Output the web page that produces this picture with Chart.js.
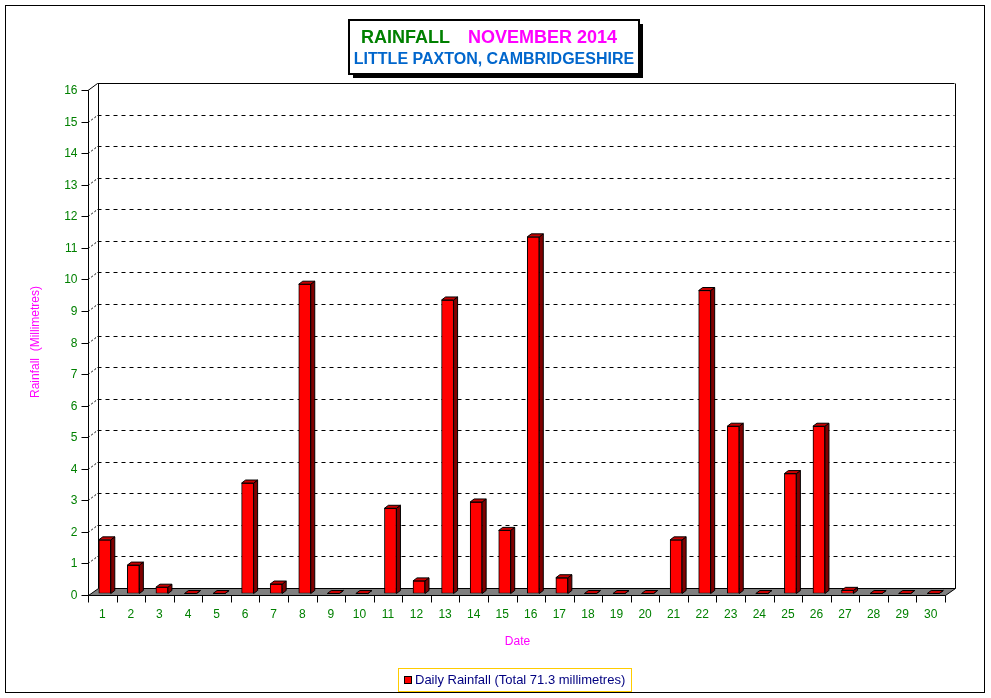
<!DOCTYPE html>
<html>
<head>
<meta charset="utf-8">
<script src="https://cdn.jsdelivr.net/npm/chart.js@4/dist/chart.umd.min.js"></script>
<style>
  html, body { margin: 0; padding: 0; background: #fff; }
  canvas { display: block; }
</style>
</head>
<body>
<canvas id="chartCanvas" width="991" height="698"></canvas>
<script>
// ===============================
// DATA
// ===============================
const days = ["1","2","3","4","5","6","7","8","9","10","11","12","13","14","15",
              "16","17","18","19","20","21","22","23","24","25","26","27","28","29","30"];
const rainfall = [1.7, 0.9, 0.2, 0, 0, 3.5, 0.3, 9.8, 0, 0, 2.7, 0.4, 9.3, 2.9, 2.0,
                  11.3, 0.5, 0, 0, 0, 1.7, 9.6, 5.3, 0, 3.8, 5.3, 0.1, 0, 0, 0];
const yMin = 0, yMax = 16, yStep = 1;
const seriesLabel = "Daily Rainfall (Total 71.3 millimetres)";
const titleLeft = "RAINFALL";
const titleRight = "NOVEMBER 2014";
const subTitle = "LITTLE PAXTON, CAMBRIDGESHIRE";
const xTitle = "Date";
const yTitle = "Rainfall  (Millimetres)";

const FONT = "Arial, 'Liberation Sans', sans-serif";
const DX = 9.5, DY = 7;        // depth of back wall
const BDX = 4, BDY = 3;        // depth of each bar
const BAR_SHIFT_X = 2.5, BAR_SHIFT_Y = -1.5;

// ===============================
// 3D BACKGROUND + DECORATIONS
// ===============================
const chartDecor = {
  id: "chartDecor",

  beforeDatasetsDraw(chart) {
    const { ctx, chartArea: a, scales: { y } } = chart;
    ctx.save();
    ctx.lineWidth = 1;
    ctx.strokeStyle = "#000";

    // back wall gridlines
    y.ticks.forEach(t => {
      const py = Math.round(y.getPixelForValue(t.value) - DY) + 0.5;
      if (t.value === yMin) return;
      ctx.setLineDash(t.value === yMax ? [] : [4, 4]);
      ctx.beginPath();
      ctx.moveTo(a.left + DX, py);
      ctx.lineTo(a.right + DX, py);
      ctx.stroke();
      // little diagonal from front axis to back wall
      ctx.setLineDash(t.value === yMax ? [] : [2, 2]);
      ctx.beginPath();
      ctx.moveTo(a.left, py + DY);
      ctx.lineTo(a.left + DX, py);
      ctx.stroke();
    });
    ctx.setLineDash([]);

    const top = Math.round(y.getPixelForValue(yMax) - DY) + 0.5;
    const bot = Math.round(y.getPixelForValue(yMin)) + 0.5;
    const bl = Math.round(a.left + DX) + 0.5;
    const br = Math.round(a.right + DX) + 0.5;
    const fl = Math.round(a.left) + 0.5;
    const fr = Math.round(a.right) + 0.5;

    // back wall verticals
    ctx.beginPath();
    ctx.moveTo(bl, top); ctx.lineTo(bl, bot - DY);
    ctx.moveTo(br, top); ctx.lineTo(br, bot - DY);
    ctx.stroke();

    // floor
    ctx.fillStyle = "#808080";
    ctx.beginPath();
    ctx.moveTo(fl, bot);
    ctx.lineTo(bl, bot - DY);
    ctx.lineTo(br, bot - DY);
    ctx.lineTo(fr, bot);
    ctx.closePath();
    ctx.fill();
    ctx.stroke();

    // front axis line
    ctx.beginPath();
    ctx.moveTo(fl, Math.round(y.getPixelForValue(yMax)) + 0.5);
    ctx.lineTo(fl, bot);
    ctx.stroke();
    ctx.restore();

    // shift bars onto the floor
    ctx.save();
    ctx.translate(BAR_SHIFT_X, BAR_SHIFT_Y);
  },

  afterDatasetsDraw(chart) {
    const { ctx } = chart;
    const meta = chart.getDatasetMeta(0);
    ctx.lineWidth = 1;
    ctx.strokeStyle = "#000";
    meta.data.forEach(bar => {
      const { x, y, base, width } = bar.getProps(["x", "y", "base", "width"], true);
      const x0 = x - width / 2, x1 = x + width / 2;
      // side face
      ctx.fillStyle = "#800000";
      ctx.beginPath();
      ctx.moveTo(x1, y);
      ctx.lineTo(x1 + BDX, y - BDY);
      ctx.lineTo(x1 + BDX, base - BDY);
      ctx.lineTo(x1, base);
      ctx.closePath();
      ctx.fill();
      ctx.stroke();
      // top face
      ctx.fillStyle = "#C80000";
      ctx.beginPath();
      ctx.moveTo(x0, y);
      ctx.lineTo(x0 + BDX, y - BDY);
      ctx.lineTo(x1 + BDX, y - BDY);
      ctx.lineTo(x1, y);
      ctx.closePath();
      ctx.fill();
      ctx.stroke();
    });
    ctx.restore();
  },

  afterDraw(chart) {
    const { ctx, chartArea: a, scales: { x, y } } = chart;
    ctx.save();
    ctx.lineWidth = 1;
    ctx.strokeStyle = "#000";
    const fl = Math.round(a.left) + 0.5;
    const bot = Math.round(y.getPixelForValue(yMin)) + 0.5;

    // y ticks + labels
    ctx.font = "12px " + FONT;
    ctx.fillStyle = "#008000";
    ctx.textAlign = "right";
    ctx.textBaseline = "middle";
    y.ticks.forEach(t => {
      const py = Math.round(y.getPixelForValue(t.value)) + 0.5;
      ctx.beginPath();
      ctx.moveTo(fl - 7, py);
      ctx.lineTo(fl, py);
      ctx.stroke();
      ctx.fillText(String(t.value), fl - 11, py);
    });

    // x ticks + labels
    ctx.textAlign = "center";
    ctx.textBaseline = "middle";
    const step = (a.right - a.left) / days.length;
    ctx.beginPath();
    for (let i = 0; i <= days.length; i++) {
      const px = Math.round(a.left + i * step) + 0.5;
      ctx.moveTo(px, bot);
      ctx.lineTo(px, bot + 7);
    }
    ctx.stroke();
    x.ticks.forEach((t, i) => {
      ctx.fillText(x.getLabelForValue(t.value), x.getPixelForValue(t.value), 615);
    });

    // axis titles
    ctx.fillStyle = "#FF00FF";
    ctx.fillText(xTitle, (a.left + a.right) / 2 + 1, 642);
    ctx.save();
    ctx.translate(36, 342);
    ctx.rotate(-Math.PI / 2);
    ctx.fillText(yTitle, 0, 0);
    ctx.restore();

    // title box
    ctx.fillStyle = "#000";
    ctx.fillRect(353, 24, 290, 54);
    ctx.fillStyle = "#fff";
    ctx.fillRect(349, 20, 290, 54);
    ctx.lineWidth = 2;
    ctx.strokeRect(349, 20, 290, 54);
    ctx.lineWidth = 1;

    ctx.textBaseline = "alphabetic";
    ctx.textAlign = "left";
    ctx.font = "bold 18px " + FONT;
    ctx.fillStyle = "#008000";
    ctx.fillText(titleLeft, 361, 43);
    ctx.fillStyle = "#FF00FF";
    ctx.fillText(titleRight, 468, 43);
    ctx.font = "bold 16px " + FONT;
    ctx.fillStyle = "#0066CC";
    ctx.textAlign = "center";
    ctx.fillText(subTitle, 494, 64);

    // legend
    const ds = chart.data.datasets[0];
    ctx.strokeStyle = "#FFCC00";
    ctx.strokeRect(398.5, 668.5, 233, 23);
    ctx.fillStyle = ds.backgroundColor;
    ctx.fillRect(404, 676, 8, 8);
    ctx.strokeStyle = "#000";
    ctx.strokeRect(404.5, 676.5, 7, 7);
    ctx.font = "13px " + FONT;
    ctx.fillStyle = "#000080";
    ctx.textAlign = "left";
    ctx.textBaseline = "middle";
    ctx.fillText(ds.label, 415, 680);

    // outer frame
    ctx.strokeStyle = "#000";
    ctx.strokeRect(5.5, 5.5, 979, 687);
    ctx.restore();
  }
};

// ===============================
// CHART
// ===============================
new Chart(document.getElementById("chartCanvas"), {
  type: "bar",
  data: {
    labels: days,
    datasets: [{
      label: seriesLabel,
      data: rainfall,
      backgroundColor: "#FF0000",
      borderColor: "#000000",
      borderWidth: 1,
      borderSkipped: false,
      barThickness: 12
    }]
  },
  options: {
    responsive: false,
    animation: false,
    layout: { padding: { left: 88, right: 46, top: 90, bottom: 103 } },
    plugins: {
      legend: { display: false },
      title: { display: false },
      tooltip: { enabled: false }
    },
    scales: {
      x: { display: false, offset: true },
      y: { display: false, min: yMin, max: yMax, ticks: { stepSize: yStep } }
    }
  },
  plugins: [chartDecor]
});
</script>
</body>
</html>
